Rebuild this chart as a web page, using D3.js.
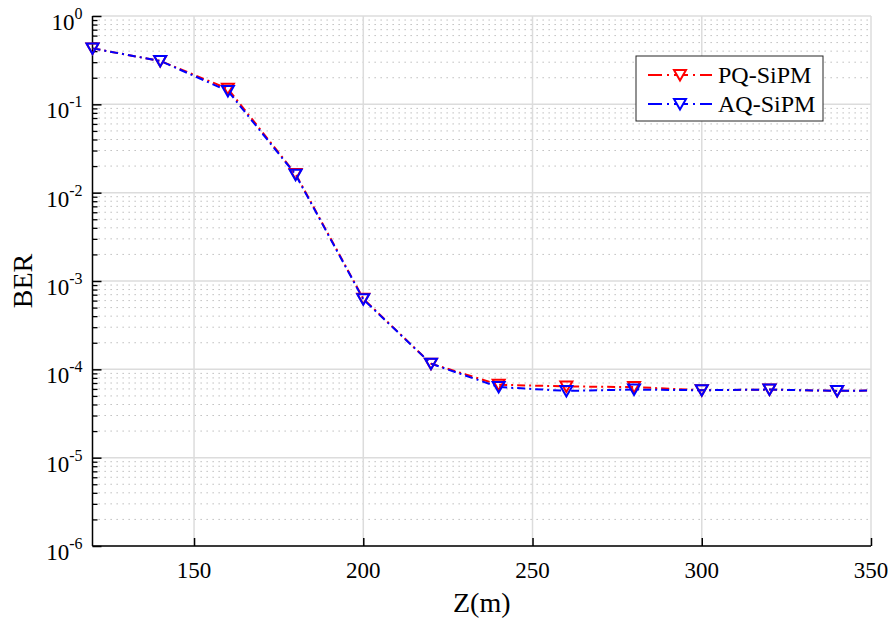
<!DOCTYPE html>
<html>
<head>
<meta charset="utf-8">
<script src="https://cdn.jsdelivr.net/npm/d3@7"></script>
<style>
  body { margin: 0; background: #fff; }
  svg text { font-family: 'Liberation Serif', 'Times New Roman', Times, serif; }
</style>
</head>
<body>
<svg id="chart" width="890" height="619"></svg>
<script>
// distance Z (m)
var zValues = [120, 140, 160, 180, 200, 220, 240, 260, 280, 300, 320, 340, 360];
// BER
var pqBer = [0.43, 0.31, 0.15, 0.0163, 6.3e-4, 1.16e-4, 6.7e-5, 6.4e-5, 6.3e-5, 5.8e-5, 5.9e-5, 5.7e-5, 5.8e-5];
var aqBer = [0.43, 0.31, 0.142, 0.016, 6.2e-4, 1.16e-4, 6.3e-5, 5.7e-5, 5.9e-5, 5.8e-5, 5.9e-5, 5.7e-5, 5.8e-5];
var seriesNames = ['PQ-SiPM', 'AQ-SiPM'];
var seriesColors = ['#ff0000', '#0000ff'];
var xTicks = [150, 200, 250, 300, 350];
var yExponents = [0, -1, -2, -3, -4, -5, -6];

var svg = d3.select('#chart');
var margin = { left: 92.5, right: 19, top: 16, bottom: 73 };
var width = 890 - margin.left - margin.right;
var height = 619 - margin.top - margin.bottom;

var x = d3.scaleLinear().domain([120, 350]).range([0, width]);
var y = d3.scaleLog().domain([1e-6, 1]).range([height, 0]);

var g = svg.append('g').attr('transform', 'translate(' + margin.left + ',' + margin.top + ')');

svg.append('defs').append('clipPath').attr('id', 'plot-clip')
  .append('rect').attr('x', 0).attr('y', -10).attr('width', width).attr('height', height + 20);

// minor grid (dotted)
var minorVals = [];
for (var k = -6; k < 0; k++) {
  for (var m = 2; m <= 9; m++) minorVals.push(m * Math.pow(10, k));
}
g.append('g').selectAll('line').data(minorVals).enter().append('line')
  .attr('x1', 0).attr('x2', width)
  .attr('y1', function(d) { return y(d); }).attr('y2', function(d) { return y(d); })
  .attr('stroke', '#b4b4b4').attr('stroke-width', 1).attr('stroke-dasharray', '1.3,4.7');

// major grid
g.append('g').selectAll('line').data(yExponents).enter().append('line')
  .attr('x1', 0).attr('x2', width)
  .attr('y1', function(d) { return y(Math.pow(10, d)); }).attr('y2', function(d) { return y(Math.pow(10, d)); })
  .attr('stroke', '#dcdcdc').attr('stroke-width', 1.5);
g.append('g').selectAll('line').data(xTicks).enter().append('line')
  .attr('y1', 0).attr('y2', height)
  .attr('x1', function(d) { return x(d); }).attr('x2', function(d) { return x(d); })
  .attr('stroke', '#dcdcdc').attr('stroke-width', 1.5);

// axes with inward ticks
var xAxis = d3.axisBottom(x).tickValues(xTicks).tickSize(-8).tickFormat('');
var gx = g.append('g').attr('transform', 'translate(0,' + height + ')').call(xAxis);
gx.select('.domain').attr('stroke', '#000').attr('stroke-width', 1.5).attr('d', 'M0,0H' + width);
gx.selectAll('.tick line').attr('stroke', '#000').attr('stroke-width', 1.5);

var yAxis = d3.axisLeft(y).tickValues(minorVals).tickSize(-5).tickFormat('');
var gyMinor = g.append('g').call(yAxis);
gyMinor.select('.domain').remove();
gyMinor.selectAll('.tick line').attr('stroke', '#000').attr('stroke-width', 1.3);
var yAxisMajor = d3.axisLeft(y).tickValues(yExponents.map(function(e) { return Math.pow(10, e); })).tickSize(-9).tickFormat('');
var gy = g.append('g').call(yAxisMajor);
gy.select('.domain').attr('stroke', '#000').attr('stroke-width', 1.5).attr('d', 'M0,0V' + height);
gy.selectAll('.tick line').attr('stroke', '#000').attr('stroke-width', 1.5);

// tick labels
g.append('g').selectAll('text').data(xTicks).enter().append('text')
  .attr('x', function(d) { return x(d); }).attr('y', height + 32)
  .attr('text-anchor', 'middle').attr('font-size', 23).attr('fill', '#000')
  .text(function(d) { return d; });

var yl = g.append('g').selectAll('text').data(yExponents).enter().append('text')
  .attr('x', -10).attr('y', function(d) { return y(Math.pow(10, d)) + 14; })
  .attr('text-anchor', 'end').attr('font-size', 23).attr('fill', '#000');
yl.append('tspan').text('10');
yl.append('tspan').attr('dy', -11).attr('font-size', 16).text(function(d) { return d; });

// axis titles
svg.append('text').attr('x', margin.left + width / 2).attr('y', 612)
  .attr('text-anchor', 'middle').attr('font-size', 28).text('Z(m)');
svg.append('text').attr('transform', 'translate(32,281) rotate(-90)')
  .attr('text-anchor', 'middle').attr('font-size', 28).text('BER');

// series
var dash = '8,4,2,4';
var line = d3.line().x(function(d) { return x(d[0]); }).y(function(d) { return y(d[1]); });
var tri = 'M-6,-5L6,-5L0,5.5Z';
var series = [pqBer, aqBer].map(function(vals, i) {
  return { name: seriesNames[i], color: seriesColors[i], pts: zValues.map(function(z, j) { return [z, vals[j]]; }) };
});
var lines = g.append('g').attr('clip-path', 'url(#plot-clip)');
var marks = g.append('g');
series.forEach(function(s) {
  lines.append('path').datum(s.pts).attr('d', line)
    .attr('fill', 'none').attr('stroke', s.color).attr('stroke-width', 2).attr('stroke-dasharray', dash);
  marks.append('g').selectAll('path')
    .data(s.pts.filter(function(d) { return d[0] <= x.domain()[1]; }))
    .enter().append('path')
    .attr('d', tri)
    .attr('transform', function(d) { return 'translate(' + x(d[0]) + ',' + y(d[1]) + ')'; })
    .attr('fill', 'none').attr('stroke', s.color).attr('stroke-width', 2);
});

// legend
var legend = svg.append('g').attr('transform', 'translate(636,56)');
legend.append('rect').attr('width', 187).attr('height', 65)
  .attr('fill', '#fff').attr('stroke', '#262626').attr('stroke-width', 1);
var items = legend.selectAll('g.item').data(series).enter().append('g')
  .attr('class', 'item')
  .attr('transform', function(d, i) { return 'translate(0,' + (19 + i * 29) + ')'; });
items.append('line').attr('x1', 12).attr('x2', 76).attr('y1', 0).attr('y2', 0)
  .attr('stroke', function(d) { return d.color; }).attr('stroke-width', 2).attr('stroke-dasharray', '14,5,2,5');
items.append('path').attr('d', tri).attr('transform', 'translate(44,0)')
  .attr('fill', '#fff').attr('stroke', function(d) { return d.color; }).attr('stroke-width', 2);
items.append('text').attr('x', 82).attr('y', 8).attr('font-size', 24).attr('fill', '#000')
  .text(function(d) { return d.name; });
</script>
</body>
</html>
